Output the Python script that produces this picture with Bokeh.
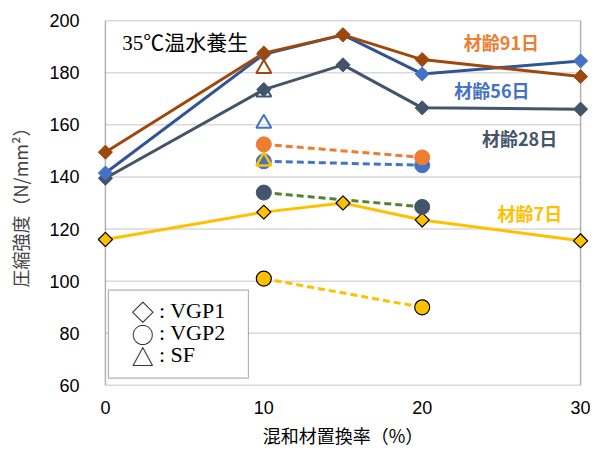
import math
from bokeh.plotting import figure
from bokeh.models import Label, BoxAnnotation, Range1d, FixedTicker, Title
from bokeh.embed import file_html
from bokeh.resources import INLINE

# ---------------- data ----------------
x_vgp1 = [0, 10, 15, 20, 30]
age7_vgp1 = [116, 126.5, 130, 123.5, 115.5]
age28_vgp1 = [139.5, 173.5, 183, 166.5, 166]
age56_vgp1 = [141.5, 187, 194.5, 179.5, 184.5]
age91_vgp1 = [149.5, 187.5, 194.5, 185, 178.5]

x_vgp2 = [10, 20]
age7_vgp2 = [101, 90]
age28_vgp2 = [134, 128.5]
age56_vgp2 = [146, 144.5]
age91_vgp2 = [152.5, 147.5]

x_sf = [10]
age7_sf = [146]
age28_sf = [172.5]
age56_sf = [160.5]
age91_sf = [181.5]

x_ticks = [0, 10, 20, 30]
y_ticks = [60, 80, 100, 120, 140, 160, 180, 200]

series_labels = ["材齢91日", "材齢56日", "材齢28日", "材齢7日"]
legend_symbols = ["◇", "○", "△"]
legend_labels = [": VGP1", ": VGP2", ": SF"]
title_text = "35℃温水養生"
x_title = "混和材置換率（%）"
y_title = "圧縮強度（N/mm²）"

# ---------------- styles ----------------
C91_LINE = "#9E480E"
C91_LIGHT = "#ED7D31"
C56_LINE = "#2F5597"
C56 = "#4472C4"
C28 = "#44546A"
C28_DASH = "#548235"
C7 = "#FFC000"
GRID = "#D9D9D9"

JP = "'Noto Sans CJK JP', 'Noto Sans', sans-serif"
NUM = "'Liberation Sans', 'Noto Sans CJK JP', sans-serif"
SERIF = "'Liberation Serif', 'Noto Sans CJK JP', serif"

p = figure(width=590, height=452, output_backend="svg", toolbar_location=None,
           x_range=Range1d(-0.5, 30.5), y_range=Range1d(60, 200),
           min_border_left=97, min_border_right=2, min_border_top=20,
           min_border_bottom=67)
p.outline_line_color = None
p.background_fill_color = "white"
p.border_fill_color = "white"
p.xgrid.visible = False
p.ygrid.visible = False

for ax in (p.xaxis[0], p.yaxis[0]):
    ax.axis_line_color = None
    ax.major_tick_line_color = None
    ax.minor_tick_line_color = None
    ax.major_tick_out = 0
    ax.major_tick_in = 0
    ax.major_label_text_font = NUM
    ax.major_label_text_font_size = "18px"
    ax.major_label_text_color = "black"

p.xaxis.ticker = FixedTicker(ticks=x_ticks)
p.yaxis.ticker = FixedTicker(ticks=y_ticks)
p.xaxis.major_label_standoff = 15
p.yaxis.major_label_standoff = 18

p.yaxis.axis_label = y_title
p.yaxis.axis_label_text_font = JP
p.yaxis.axis_label_text_font_size = "18px"
p.yaxis.axis_label_text_font_style = "normal"
p.yaxis.axis_label_standoff = 13

p.add_layout(Title(text=x_title, align="center", offset=10, standoff=6,
                   text_font=JP, text_font_size="18px",
                   text_font_style="normal", text_color="black"), "below")

# gridlines between 0 and 30
inner = y_ticks[1:-1]
p.segment(x0=[x_ticks[0]] * len(inner), y0=inner,
          x1=[x_ticks[-1]] * len(inner), y1=inner,
          line_color=GRID, line_width=1.5, level="underlay")

# plot frame border
p.add_layout(BoxAnnotation(left=x_ticks[0], right=x_ticks[-1],
                           bottom=y_ticks[0], top=y_ticks[-1],
                           fill_alpha=0, line_color="black", line_width=1.5,
                           level="underlay"))

DASH = "7 4"

# ---- 7 days ----
p.line(x_vgp2, age7_vgp2, line_color=C7, line_width=3, line_dash=DASH)
p.line(x_vgp1, age7_vgp1, line_color=C7, line_width=3)

# ---- 28 days ----
p.line(x_vgp2, age28_vgp2, line_color=C28_DASH, line_width=3, line_dash=DASH)
p.line(x_vgp1, age28_vgp1, line_color=C28, line_width=3)

# ---- 56 days ----
p.line(x_vgp2, age56_vgp2, line_color=C56, line_width=3, line_dash=DASH)
p.line(x_vgp1, age56_vgp1, line_color=C56_LINE, line_width=3)

# ---- 91 days ----
p.line(x_vgp2, age91_vgp2, line_color=C91_LIGHT, line_width=3, line_dash=DASH)
p.line(x_vgp1, age91_vgp1, line_color=C91_LINE, line_width=3)

ROT = math.pi / 4
DSZ = 10
CSZ = 15
TSZ = 15

# markers
p.scatter(x_sf, age28_sf, marker="triangle", size=TSZ, fill_alpha=0,
          line_color=C28, line_width=2)
p.scatter(x_vgp2, age7_vgp2, marker="circle", size=CSZ, fill_color=C7,
          line_color="black", line_width=1.2)
p.scatter(x_vgp1, age7_vgp1, marker="square", angle=ROT, size=DSZ,
          fill_color=C7, line_color="black", line_width=1.2)
p.scatter(x_vgp2, age28_vgp2, marker="circle", size=CSZ, fill_color=C28,
          line_color=C28)
p.scatter(x_vgp1, age28_vgp1, marker="square", angle=ROT, size=DSZ,
          fill_color=C28, line_color=C28)
p.scatter(x_vgp2, age56_vgp2, marker="circle", size=CSZ, fill_color=C56,
          line_color=C56)
p.scatter(x_vgp1, age56_vgp1, marker="square", angle=ROT, size=DSZ,
          fill_color=C56, line_color=C56)
p.scatter(x_vgp2, age91_vgp2, marker="circle", size=CSZ, fill_color=C91_LIGHT,
          line_color=C91_LIGHT)
p.scatter(x_vgp1, age91_vgp1, marker="square", angle=ROT, size=DSZ,
          fill_color=C91_LINE, line_color=C91_LINE)

p.scatter(x_sf, age91_sf, marker="triangle", size=TSZ, fill_alpha=0,
          line_color=C91_LINE, line_width=2)
p.scatter(x_sf, age56_sf, marker="triangle", size=TSZ, fill_alpha=0,
          line_color=C56, line_width=2)
p.scatter(x_sf, age7_sf, marker="triangle", size=TSZ, fill_alpha=0,
          line_color=C7, line_width=2.5)

# ---- texts ----
p.add_layout(Label(x=1.07, y=191.2, text=title_text, text_font=SERIF,
                   text_font_size="21px", text_baseline="middle",
                   text_align="left", text_color="black"))

label_pos = [(25.0, 191.6, C91_LIGHT), (24.4, 173.2, C56),
             (26.15, 154.8, C28), (26.8, 126.1, C7)]
for txt, (lx, ly, col) in zip(series_labels, label_pos):
    p.add_layout(Label(x=lx, y=ly, text=txt, text_font=JP,
                       text_font_size="18px", text_font_style="bold",
                       text_color=col, text_align="center",
                       text_baseline="middle"))

# legend box
p.add_layout(BoxAnnotation(left=0.19, right=9.03, bottom=62.8, top=96.6,
                           fill_color="white", fill_alpha=1,
                           line_color="black", line_width=1.2))
for i, (sym, txt) in enumerate(zip(legend_symbols, legend_labels)):
    yy = 88.9 - 8.6 * i
    p.add_layout(Label(x=2.35, y=yy, text=sym, text_font=JP,
                       text_font_size="22px", text_color="black",
                       text_align="center", text_baseline="middle"))
    p.add_layout(Label(x=3.38, y=yy, text=txt, text_font=SERIF,
                       text_font_size="22px", text_color="black",
                       text_align="left", text_baseline="middle"))

html = file_html(p, INLINE)
open("out.html", "w").write(html)
